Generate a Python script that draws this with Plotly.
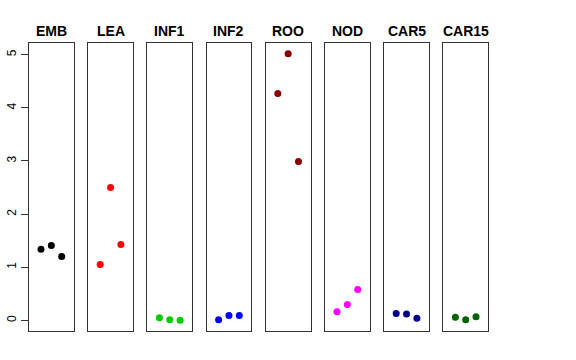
import plotly.graph_objects as go

categories = ["EMB", "LEA", "INF1", "INF2", "ROO", "NOD", "CAR5", "CAR15"]
colors = ["#000000", "#FF0000", "#00CD00", "#0000FF", "#8B0000", "#FF00FF", "#00008B", "#006400"]
rep_x = [1, 2, 3]
values = {
    "EMB": [1.34, 1.41, 1.20],
    "LEA": [1.05, 2.50, 1.43],
    "INF1": [0.05, 0.01, 0.00],
    "INF2": [0.01, 0.09, 0.09],
    "ROO": [4.27, 5.02, 2.99],
    "NOD": [0.16, 0.30, 0.58],
    "CAR5": [0.13, 0.12, 0.04],
    "CAR15": [0.06, 0.01, 0.07],
}
y_ticks = [0, 1, 2, 3, 4, 5]

W, H = 576, 360
ml, mr, mt, mb = 29, 88, 43, 29
pw = W - ml - mr
pitch = 59.2
panel_w = 44.7

fig = go.Figure()
layout = dict(
    width=W, height=H,
    margin=dict(l=ml, r=mr, t=mt, b=mb, pad=0, autoexpand=False),
    paper_bgcolor="white", plot_bgcolor="white",
    showlegend=False,
    font=dict(family="Liberation Sans, Arial, sans-serif", color="black"),
)
annotations = []
for i, cat in enumerate(categories):
    sfx = "" if i == 0 else str(i + 1)
    fig.add_trace(go.Scatter(
        x=rep_x, y=values[cat], mode="markers",
        marker=dict(color=colors[i], size=7),
        xaxis="x" + sfx, yaxis="y" + sfx,
    ))
    d0 = i * pitch / pw
    d1 = min((i * pitch + panel_w) / pw, 1.0)
    layout["xaxis" + sfx] = dict(
        domain=[d0, d1], range=[-0.16, 4.16], showticklabels=False, ticks="",
        showgrid=False, zeroline=False, showline=True, mirror=True,
        linecolor="#333333", linewidth=1, anchor="y" + sfx, automargin=False,
    )
    ya = dict(
        range=[-0.2, 5.22], showgrid=False, zeroline=False, showline=True,
        mirror=True, linecolor="#333333", linewidth=1, anchor="x" + sfx,
        domain=[0, 1], automargin=False,
    )
    if i == 0:
        ya.update(tickvals=y_ticks, ticktext=[str(t) for t in y_ticks],
                  ticks="outside", ticklen=7, tickcolor="#333333",
                  tickangle=-90, tickfont=dict(size=12, color="black"))
    else:
        ya.update(showticklabels=False, ticks="")
    layout["yaxis" + sfx] = ya
    annotations.append(dict(
        text="<b>" + cat + "</b>", x=(d0 + d1) / 2, y=1, xref="paper", yref="paper",
        xanchor="center", yanchor="bottom", yshift=2, showarrow=False,
        font=dict(size=14, color="black"),
    ))
layout["annotations"] = annotations
fig.update_layout(**layout)
fig.write_html("out.html", config={"displayModeBar": False},
               post_script="document.body.style.margin='0';")
